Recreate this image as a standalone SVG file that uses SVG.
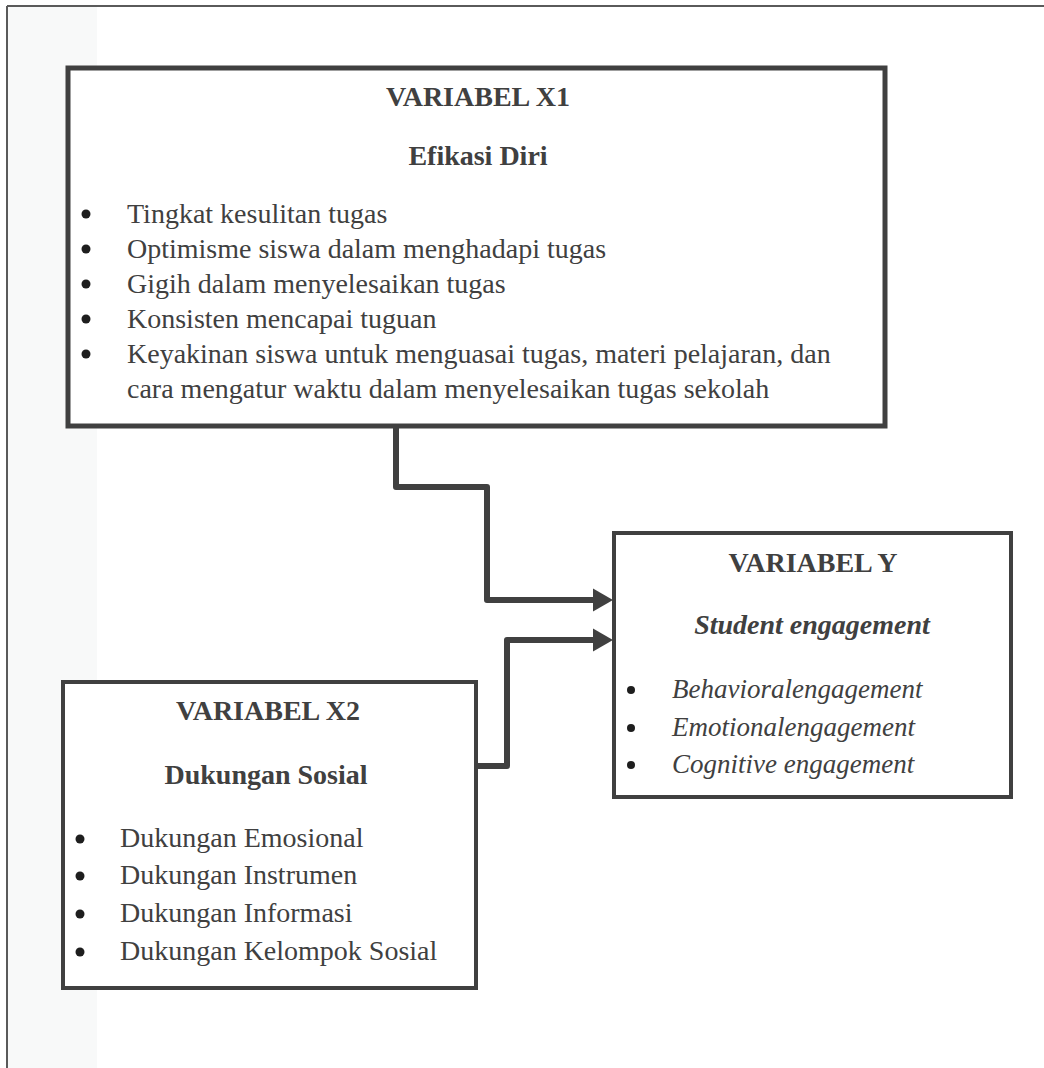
<svg xmlns="http://www.w3.org/2000/svg" width="1044" height="1068" viewBox="0 0 1044 1068">
<style>
.box{fill:#ffffff;stroke:#404040;}
.h{font-family:"Liberation Serif","Times New Roman",serif;font-weight:bold;font-size:28px;fill:#404040;text-anchor:middle;}
.t{font-family:"Liberation Serif","Times New Roman",serif;font-size:28px;fill:#404040;}
.i{font-family:"Liberation Serif","Times New Roman",serif;font-style:italic;font-size:27px;fill:#404040;}
.b{fill:#1e1e1e;}
.c{fill:none;stroke:#404040;stroke-width:6;stroke-linejoin:round;marker-end:url(#arr);}
</style>
<defs>
<marker id="arr" markerUnits="userSpaceOnUse" markerWidth="20" markerHeight="24" refX="3" refY="12" orient="auto">
<path d="M0,0.5 L20,12 L0,23.5 Z" fill="#404040"/>
</marker>
</defs>
<rect x="0" y="0" width="1044" height="1068" fill="#ffffff"/>
<rect x="8" y="7" width="89" height="1061" fill="#f8f9f9"/>
<g id="frame">
<line x1="7" y1="6" x2="1044" y2="6" stroke="#5a5a5a" stroke-width="2"/>
<line x1="7" y1="6" x2="7" y2="1068" stroke="#5a5a5a" stroke-width="2"/>
</g>
<g id="x1">
<rect class="box" x="68" y="68" width="817" height="358" stroke-width="5"/>
<text class="h" x="478" y="106">VARIABEL X1</text>
<text class="h" x="478" y="165">Efikasi Diri</text>
<circle class="b" cx="86" cy="214" r="4.5"/>
<circle class="b" cx="86" cy="249" r="4.5"/>
<circle class="b" cx="86" cy="284" r="4.5"/>
<circle class="b" cx="86" cy="319" r="4.5"/>
<circle class="b" cx="86" cy="354" r="4.5"/>
<text class="t" x="127" y="223">Tingkat kesulitan tugas</text>
<text class="t" x="127" y="258">Optimisme siswa dalam menghadapi tugas</text>
<text class="t" x="127" y="293">Gigih dalam menyelesaikan tugas</text>
<text class="t" x="127" y="328">Konsisten mencapai tuguan</text>
<text class="t" x="127" y="363">Keyakinan siswa untuk menguasai tugas, materi pelajaran, dan</text>
<text class="t" x="127" y="398">cara mengatur waktu dalam menyelesaikan tugas sekolah</text>
</g>
<g id="y">
<rect class="box" x="614" y="533" width="397" height="264" stroke-width="4"/>
<text class="h" x="813" y="572">VARIABEL Y</text>
<text class="h" x="812" y="634" font-style="italic">Student engagement</text>
<circle class="b" cx="631" cy="690" r="4"/>
<circle class="b" cx="631" cy="728" r="4"/>
<circle class="b" cx="631" cy="765" r="4"/>
<text class="i" x="672" y="698">Behavioralengagement</text>
<text class="i" x="672" y="736">Emotionalengagement</text>
<text class="i" x="672" y="773">Cognitive engagement</text>
</g>
<g id="x2">
<rect class="box" x="63" y="682" width="413" height="306" stroke-width="4"/>
<text class="h" x="268" y="720">VARIABEL X2</text>
<text class="h" x="266" y="784">Dukungan Sosial</text>
<circle class="b" cx="80" cy="839" r="4.5"/>
<circle class="b" cx="80" cy="876" r="4.5"/>
<circle class="b" cx="80" cy="914" r="4.5"/>
<circle class="b" cx="80" cy="952" r="4.5"/>
<text class="t" x="120" y="847">Dukungan Emosional</text>
<text class="t" x="120" y="884">Dukungan Instrumen</text>
<text class="t" x="120" y="922">Dukungan Informasi</text>
<text class="t" x="120" y="960">Dukungan Kelompok Sosial</text>
</g>
<g id="connectors">
<path class="c" d="M396,428 L396,487 L487,487 L487,600 L596,600"/>
<path class="c" d="M478,766 L507,766 L507,640 L596,640"/>
</g>
</svg>
